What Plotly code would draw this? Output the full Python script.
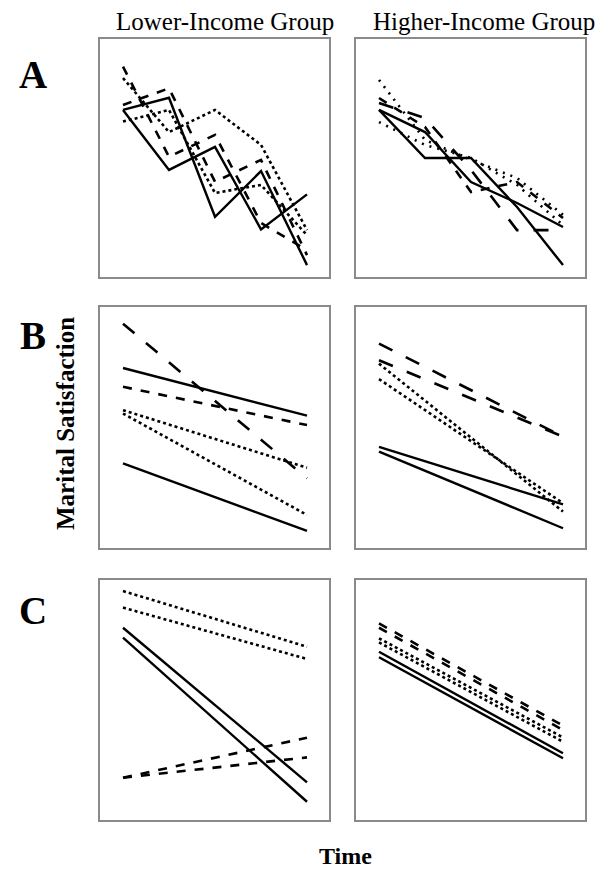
import plotly.graph_objects as go

W, H = 604, 876
OFF = 8  # default page body margin of the browser
FW, FH = W - OFF, H - OFF

# ---------------- data ----------------
time5 = [1, 2, 3, 4, 5]
time2 = [1, 5]

# Panel A, lower-income (5 waves)
a_low_solid1 = [7.02, 4.50, 5.47, 2.00, 3.47]
a_low_solid2 = [7.02, 7.53, 2.53, 4.45, 0.50]
a_low_dash1 = [8.84, 5.05, 5.97, 2.27, 1.13]
a_low_dash2 = [7.23, 7.93, 4.00, 4.92, 0.92]
a_low_dot1 = [8.36, 6.09, 7.02, 5.55, 1.97]
a_low_dot2 = [6.53, 7.02, 3.53, 3.87, 1.76]

# Panel A, higher-income (5 waves)
a_high_solid1 = [7.02, 5.00, 5.00, 2.94, 0.50]
a_high_solid2 = [7.02, 6.09, 3.99, 3.11, 2.10]
a_high_dash1 = [7.52, 6.30, 3.57, 3.99, 2.48]
a_high_dash2 = [7.31, 6.68, 4.50, 1.97, 1.97]
a_high_dot1 = [8.28, 5.76, 4.92, 4.16, 2.61]
a_high_dot2 = [6.51, 5.55, 5.00, 3.87, 2.18]

# Panel B, lower-income (start, end)
b_low_longdash = [9.31, 2.89]
b_low_solid1 = [7.47, 5.49]
b_low_dash = [6.69, 5.10]
b_low_dot1 = [5.72, 3.33]
b_low_dot2 = [5.58, 1.37]
b_low_solid2 = [3.51, 0.71]

# Panel B, higher-income
b_high_longdash1 = [8.48, 4.62]
b_high_longdash2 = [7.79, 4.62]
b_high_dot1 = [7.65, 1.51]
b_high_dot2 = [7.01, 1.86]
b_high_solid1 = [4.20, 1.81]
b_high_solid2 = [4.00, 0.82]

# Panel C, lower-income
c_low_dot1 = [9.54, 7.22]
c_low_dot2 = [8.85, 6.71]
c_low_solid1 = [8.01, 1.57]
c_low_solid2 = [7.60, 0.76]
c_low_dash1 = [1.76, 3.43]
c_low_dash2 = [1.76, 2.61]

# Panel C, higher-income
c_high_dash1 = [8.19, 3.93]
c_high_dash2 = [8.01, 3.75]
c_high_dot1 = [7.57, 3.44]
c_high_dot2 = [7.40, 3.26]
c_high_solid1 = [7.01, 2.78]
c_high_solid2 = [6.78, 2.57]

row_labels = ["A", "B", "C"]
col_labels = ["Lower-Income Group", "Higher-Income Group"]
y_title = "Marital Satisfaction"
x_title = "Time"

# ---------------- layout geometry (page pixels) ----------------
col_px = [(100, 329), (356, 585)]
row_px = [(39, 277), (307, 548), (580, 820)]

def px_x(p):
    return (p - OFF) / FW

def px_y(p):
    return 1 - (p - OFF) / FH

panels = [
    (0, 0, time5, [(a_low_solid1, "solid"), (a_low_solid2, "solid"), (a_low_dash1, "dash"),
                   (a_low_dash2, "dash"), (a_low_dot1, "dot"), (a_low_dot2, "dot")]),
    (0, 1, time5, [(a_high_solid1, "solid"), (a_high_solid2, "solid"), (a_high_dash1, "dash"),
                   (a_high_dash2, "longdash"), (a_high_dot1, "2px,6px"), (a_high_dot2, "2px,6px")]),
    (1, 0, time2, [(b_low_longdash, "longdash"), (b_low_solid1, "solid"), (b_low_dash, "dash"),
                   (b_low_dot1, "dot"), (b_low_dot2, "dot"), (b_low_solid2, "solid")]),
    (1, 1, time2, [(b_high_longdash1, "longdash"), (b_high_longdash2, "longdash"), (b_high_dot1, "dot"),
                   (b_high_dot2, "dot"), (b_high_solid1, "solid"), (b_high_solid2, "solid")]),
    (2, 0, time2, [(c_low_dot1, "dot"), (c_low_dot2, "dot"), (c_low_solid1, "solid"),
                   (c_low_solid2, "solid"), (c_low_dash1, "dash"), (c_low_dash2, "dash")]),
    (2, 1, time2, [(c_high_dash1, "dash"), (c_high_dash2, "dash"), (c_high_dot1, "dot"),
                   (c_high_dot2, "dot"), (c_high_solid1, "solid"), (c_high_solid2, "solid")]),
]

fig = go.Figure()
layout_axes = {}
for i, (r, c, tx, series) in enumerate(panels):
    n = i + 1
    xa = "x" if n == 1 else f"x{n}"
    ya = "y" if n == 1 else f"y{n}"
    for vals, dash in series:
        fig.add_trace(go.Scatter(
            x=tx, y=vals, mode="lines", xaxis=xa, yaxis=ya,
            line=dict(color="black", width=2.4 if dash == "solid" else 2.6, dash=dash),
            showlegend=False, hoverinfo="skip"))
    x0, x1 = col_px[c]
    y0, y1 = row_px[r]
    common = dict(showgrid=False, zeroline=False, showticklabels=False, ticks="",
                  showline=True, mirror=True, linecolor="#8a8a8a", linewidth=2,
                  fixedrange=True)
    layout_axes[f"xaxis{n if n > 1 else ''}"] = dict(
        domain=[px_x(x0), px_x(x1)], range=[0.5, 5.478], anchor=ya, **common)
    layout_axes[f"yaxis{n if n > 1 else ''}"] = dict(
        domain=[px_y(y1), px_y(y0)], range=[0, 10], anchor=xa, **common)

serif = "Liberation Serif, Times New Roman, serif"
annotations = []
for lab, cx in zip(col_labels, [225, 484]):
    annotations.append(dict(text=lab, x=px_x(cx), y=px_y(22), xref="paper", yref="paper",
                            xanchor="center", yanchor="middle", showarrow=False,
                            font=dict(family=serif, size=25, color="black")))
for lab, cy in zip(row_labels, [74, 336, 610]):
    annotations.append(dict(text=f"<b>{lab}</b>", x=px_x(33), y=px_y(cy), xref="paper", yref="paper",
                            xanchor="center", yanchor="middle", showarrow=False,
                            font=dict(family=serif, size=39, color="black")))
annotations.append(dict(text=f"<b>{y_title}</b>", x=px_x(66), y=px_y(424), xref="paper", yref="paper",
                        xanchor="center", yanchor="middle", showarrow=False, textangle=-90,
                        font=dict(family=serif, size=25, color="black")))
annotations.append(dict(text=f"<b>{x_title}</b>", x=px_x(345), y=px_y(856), xref="paper", yref="paper",
                        xanchor="center", yanchor="middle", showarrow=False,
                        font=dict(family=serif, size=24, color="black")))

fig.update_layout(width=FW, height=FH, margin=dict(l=0, r=0, t=0, b=0),
                  paper_bgcolor="white", plot_bgcolor="white",
                  annotations=annotations, **layout_axes)

fig.write_html("out.html", config={"displayModeBar": False})
